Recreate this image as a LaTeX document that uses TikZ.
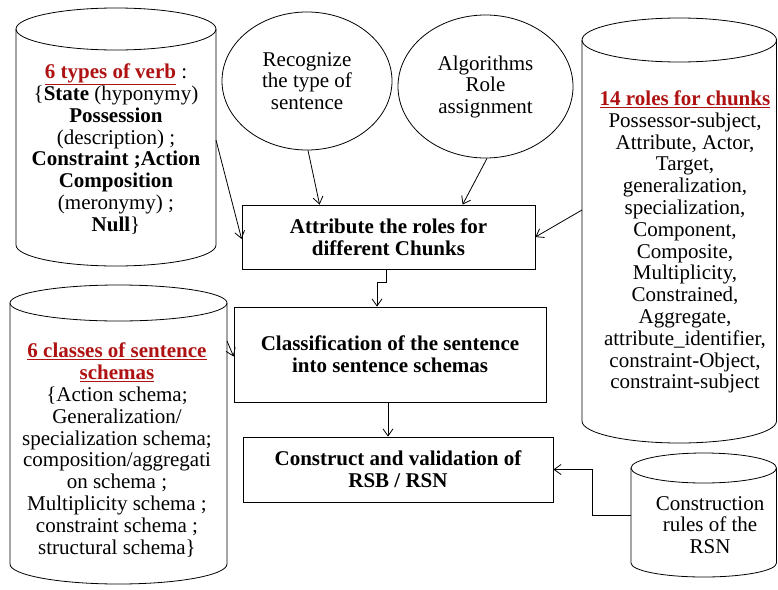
\documentclass[tikz,border=0pt]{standalone}
\usepackage{fontspec}
\setmainfont{Liberation Serif}
\usetikzlibrary{arrows.meta,shapes.geometric}
\definecolor{titlered}{RGB}{175,18,18}
\tikzset{
  line/.style={draw=black, line width=0.8pt},
  arr/.style={line, -{Straight Barb[length=7pt,width=10pt,line width=0.8pt]}},
  procbox/.style={line, rectangle, align=center, inner sep=0pt,
    font=\fontsize{21}{22}\selectfont\bfseries},
  oval/.style={line, ellipse, align=center, inner sep=0pt,
    font=\fontsize{21}{21.5}\selectfont},
  cyltext/.style={align=center, inner sep=0pt,
    font=\fontsize{21}{21.8}\selectfont},
}
\newcommand\redtitle[1]{\textcolor{titlered}{\underline{\textbf{#1}}}}
\newcommand\cylshape[6]{%
  \pgfmathsetmacro\cylcx{(#1+#2)/2}%
  \pgfmathsetmacro\cylrx{(#2-#1)/2}%
  \draw[line] (\cylcx,#3) ellipse [x radius=\cylrx pt, y radius=#4pt];
  \draw[line] (#1,#3) -- (#1,#5)
    arc[start angle=180, end angle=360, x radius=\cylrx pt, y radius=#6pt]
    -- (#2,#3);
}
\begin{document}
\begin{tikzpicture}[x=1pt, y=-1pt]
\useasboundingbox (0,0) rectangle (778,589);

% cylinders
\cylshape{16}{216}{29}{21}{245}{21}
\cylshape{582}{776.5}{40}{22}{421}{22}
\cylshape{10}{227}{303}{18}{564}{20}
\cylshape{631}{776.5}{468}{15}{563}{14}

\node[cyltext] (verbs) at (116,149) {%
  \redtitle{6 types of verb} :\\
  \{\textbf{State} (hyponymy)\\
  \textbf{Possession}\\
  (description) ;\\
  \textbf{Constraint ;Action}\\
  \textbf{Composition}\\
  (meronymy) ;\\
  \textbf{Null}\}};

\node[cyltext] (roles) at (685,242) {%
  \redtitle{14 roles for chunks}\\
  Possessor-subject,\\
  Attribute, Actor,\\
  Target,\\
  generalization,\\
  specialization,\\
  Component,\\
  Composite,\\
  Multiplicity,\\
  Constrained,\\
  Aggregate,\\
  attribute\_identifier,\\
  constraint-Object,\\
  constraint-subject};

\node[cyltext] (schemas) at (117,450) {%
  \redtitle{6 classes of sentence}\\
  \redtitle{schemas}\\
  \{Action schema;\\
  Generalization/\\
  specialization schema;\\
  composition/aggregati\\
  on schema ;\\
  Multiplicity schema ;\\
  constraint schema ;\\
  structural schema\}};

\node[cyltext] (rules) at (710,525) {%
  Construction\\ rules of the\\ RSN};

\coordinate (verbsR) at (216,140);
\coordinate (rolesL) at (582,210);
\coordinate (schemasR) at (227,341);
\coordinate (rulesL) at (631,515);

% ellipses
\node[oval, minimum width=170pt, minimum height=138pt] (rec) at (307,81)
  {Recognize\\ the type of\\ sentence};
\node[oval, minimum width=175pt, minimum height=143pt] (algo) at (485.5,86.5)
  {Algorithms\\ Role\\ assignment};

% process boxes
\node[procbox, minimum width=293pt, minimum height=64pt] (attr) at (388.5,237)
  {Attribute the roles for\\ different Chunks};
\node[procbox, minimum width=312pt, minimum height=95pt] (classif) at (390,354.5)
  {Classification of the sentence\\ into sentence schemas};
\node[procbox, minimum width=310pt, minimum height=65pt] (constr) at (398,469.5)
  {Construct and validation of\\ RSB / RSN};

% connectors
\draw[arr] (verbsR) -- ([yshift=-2pt]attr.west);
\draw[arr] ([xshift=1pt]rec.south) -- ([xshift=78pt]attr.north west);
\draw[arr] ([xshift=1.5pt]algo.south) -- ([xshift=221pt]attr.north west);
\draw[arr] (rolesL) -- (attr.east);
\draw[arr] ([xshift=-2.5pt]attr.south) -- ++(0,13) -| ([xshift=-13pt]classif.north);
\draw[arr] (schemasR) -- ([yshift=-2pt]classif.west);
\draw[arr] ([xshift=-2pt]classif.south) -- ([xshift=-10pt]constr.north);
\draw[arr] (rulesL) -- ++(-39,0) |- (constr.east);
\end{tikzpicture}
\end{document}
